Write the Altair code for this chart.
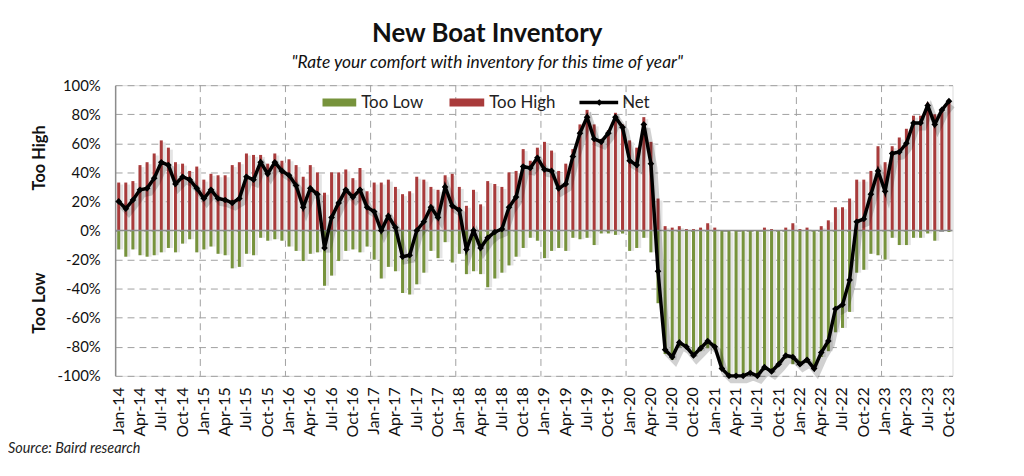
import altair as alt
import pandas as pd

MONTH_ABBR = ["Jan", "Feb", "Mar", "Apr", "May", "Jun",
              "Jul", "Aug", "Sep", "Oct", "Nov", "Dec"]
YEARS = ["14", "15", "16", "17", "18", "19", "20", "21", "22", "23"]
months = [f"{m}-{y}" for y in YEARS for m in MONTH_ABBR][:118]

too_high = [33, 33, 34, 45, 47, 53, 62, 57, 47, 46, 41, 44,
            35, 39, 38, 38, 45, 47, 53, 52, 52, 46, 53, 48,
            49, 45, 37, 45, 40, 26, 40, 40, 42, 36, 43, 27,
            33, 33, 35, 30, 25, 27, 37, 35, 30, 28, 38, 39,
            30, 17, 28, 18, 34, 32, 30, 40, 41, 56, 48, 57,
            61, 55, 41, 46, 56, 73, 83, 73, 63, 69, 81, 73,
            62, 57, 78, 61, 22, 3, 2, 3, 1, 1, 2, 5,
            2, 0, 0, 0, 0, 0, 0, 2, 1, 0, 2, 5,
            1, 2, 0, 3, 7, 16, 16, 22, 35, 35, 41, 58,
            47, 58, 64, 70, 79, 79, 88, 80, 83, 90]

too_low = [-13, -18, -13, -17, -18, -17, -15, -12, -15, -9, -6, -15,
           -13, -11, -16, -17, -26, -25, -16, -17, -5, -7, -6, -7,
           -11, -14, -21, -16, -15, -38, -31, -21, -14, -13, -15, -11,
           -20, -33, -25, -28, -43, -44, -37, -29, -14, -19, -8, -22,
           -16, -30, -28, -30, -39, -33, -29, -24, -18, -12, -5, -7,
           -19, -14, -12, -14, -5, -6, -5, -10, -2, -2, -3, -2,
           -14, -12, -5, -15, -50, -85, -89, -80, -81, -87, -83, -81,
           -82, -95, -100, -100, -100, -98, -100, -96, -98, -92, -88, -92,
           -93, -91, -95, -87, -83, -70, -67, -56, -29, -27, -16, -17,
           -20, -5, -10, -10, -5, -5, -2, -7, 0, -1]

net = [20, 15, 21, 28, 29, 36, 47, 45, 32, 37, 35, 29,
       22, 28, 22, 21, 19, 22, 37, 35, 47, 39, 47, 41,
       38, 31, 16, 29, 25, -12, 9, 19, 28, 23, 28, 16,
       13, 0, 10, 2, -18, -17, 0, 6, 16, 9, 30, 17,
       14, -13, 0, -12, -5, -1, 1, 16, 23, 44, 43, 50,
       42, 41, 29, 32, 51, 67, 78, 63, 61, 67, 78, 71,
       48, 45, 73, 46, -28, -82, -87, -77, -80, -86, -81, -76,
       -80, -95, -100, -100, -100, -98, -100, -94, -97, -92, -86, -87,
       -92, -89, -95, -84, -76, -54, -51, -34, 6, 8, 25, 41,
       27, 53, 54, 60, 74, 74, 86, 73, 83, 89]

x_tick_labels = months[::3]
year_starts = [m for m in months if m.startswith("Jan")][1:]
legend_items = ["Too Low", "Too High", "Net"]
y_titles = ["Too High", "Too Low"]
y_title_pos = [50, -50]
source_text = "Source: Baird research"

RED = "#A93B3B"
GREEN = "#77933C"
GRID = "#a0a0a0"
FONT = "Lato"
W, H = 844, 293

df = pd.DataFrame({"month": months, "too_high": too_high,
                   "too_low": too_low, "net": net})

xscale = alt.Scale(domain=months, paddingInner=0, paddingOuter=0)
xaxis = alt.Axis(values=x_tick_labels, labelAngle=270, title=None,
                 domain=False, ticks=False, grid=False, labelFontSize=16,
                 labelPadding=11, labelColor="#111", labelFont=FONT)
yscale = alt.Scale(domain=[-100, 100], nice=False)
yaxis = alt.Axis(values=list(range(-100, 101, 20)), labelExpr="datum.value + '%'",
                 title=None, grid=True, gridDash=[7, 5], gridColor=GRID,
                 domain=True, domainColor="#8c8c8c", domainWidth=1.5,
                 ticks=False, labelFontSize=15, labelPadding=15,
                 labelColor="#111", labelFont=FONT)

base = alt.Chart(df)

vgrid = alt.Chart(pd.DataFrame({"m": year_starts})).mark_rule(
    color=GRID, strokeDash=[7, 5], strokeWidth=1
).encode(x=alt.X("m:N", sort=months, scale=xscale, axis=xaxis, bandPosition=0))

shadow_bars = base.mark_bar(size=6, color="#e4e4e4", xOffset=1.5, yOffset=2).encode(
    x=alt.X("month:N", sort=months, scale=xscale, axis=xaxis),
    y=alt.Y("too_high:Q", scale=yscale, axis=yaxis),
    y2="too_low:Q",
)

red_bars = base.mark_bar(size=3, color=RED).encode(
    x=alt.X("month:N", sort=months, scale=xscale, axis=xaxis),
    y=alt.Y("too_high:Q", scale=yscale, axis=yaxis),
)
green_bars = base.mark_bar(size=3, color=GREEN).encode(
    x=alt.X("month:N", sort=months, scale=xscale, axis=xaxis),
    y=alt.Y("too_low:Q", scale=yscale, axis=yaxis),
)

zero_rule = alt.Chart(pd.DataFrame({"z": [0]})).mark_rule(
    color="#8c8c8c", strokeWidth=1.5
).encode(y=alt.Y("z:Q", scale=yscale, axis=yaxis))

line_shadow = base.mark_line(color="#000", opacity=0.18, strokeWidth=7,
                             xOffset=3, yOffset=4).encode(
    x=alt.X("month:N", sort=months, scale=xscale, axis=xaxis),
    y=alt.Y("net:Q", scale=yscale, axis=yaxis),
)
net_line = base.mark_line(color="black", strokeWidth=3.5).encode(
    x=alt.X("month:N", sort=months, scale=xscale, axis=xaxis),
    y=alt.Y("net:Q", scale=yscale, axis=yaxis),
)
net_pts = base.mark_point(shape="diamond", size=45, filled=True, color="black", opacity=1).encode(
    x=alt.X("month:N", sort=months, scale=xscale, axis=xaxis),
    y=alt.Y("net:Q", scale=yscale, axis=yaxis),
)

one = alt.Data(values=[{"k": 1}])
LEG_Y = 17.5
leg_green = alt.Chart(one).mark_rule(color=GREEN, strokeWidth=8).encode(
    x=alt.value(209), x2=alt.value(243), y=alt.value(LEG_Y))
leg_red = alt.Chart(one).mark_rule(color=RED, strokeWidth=8).encode(
    x=alt.value(337), x2=alt.value(372), y=alt.value(LEG_Y))
leg_line = alt.Chart(one).mark_rule(color="black", strokeWidth=3.5).encode(
    x=alt.value(468), x2=alt.value(507), y=alt.value(LEG_Y))
leg_diamond = alt.Chart(one).mark_point(shape="diamond", size=45, filled=True,
                                        color="black", opacity=1).encode(
    x=alt.value(488), y=alt.value(LEG_Y))
leg_text = alt.Chart(alt.Data(values=[{"t": legend_items[0], "x": 248},
                                      {"t": legend_items[1], "x": 377},
                                      {"t": legend_items[2], "x": 511}])).mark_text(
    align="left", baseline="middle", fontSize=17, font=FONT, color="#222"
).encode(x=alt.X("x:Q", scale=None), y=alt.value(LEG_Y + 1), text="t:N")

ytitle = alt.Chart(pd.DataFrame({"t": y_titles, "v": y_title_pos})).mark_text(
    angle=270, fontSize=16.5, fontWeight="bold", font=FONT, color="#111",
    align="center", baseline="middle"
).encode(x=alt.value(-76), y=alt.Y("v:Q", scale=yscale, axis=yaxis), text="t:N")

source = alt.Chart(one).mark_text(
    align="left", baseline="middle", fontSize=14.5, fontStyle="italic",
    font=FONT, color="#222"
).encode(x=alt.value(-108), y=alt.value(367), text=alt.value(source_text))

chart = alt.layer(
    vgrid, shadow_bars, red_bars, green_bars, zero_rule, line_shadow,
    net_line, net_pts, leg_green, leg_red, leg_line, leg_diamond, leg_text,
    ytitle, source
).properties(
    width=W, height=H,
    title=alt.TitleParams(
        text="New Boat Inventory",
        subtitle='"Rate your comfort with inventory for this time of year"',
        anchor="middle", dx=-47, fontSize=26, fontWeight="bold", font=FONT,
        color="#111", subtitleFont=FONT, subtitleFontSize=17.5,
        subtitleFontStyle="italic", subtitleColor="#111", subtitlePadding=7,
        offset=7,
    ),
    autosize=alt.AutoSizeParams(type="none"),
    padding={"left": 108, "top": 76, "right": 64, "bottom": 80},
).configure_view(stroke=None).configure(background="white")

chart.save("out.html", embed_options={"renderer": "svg", "actions": False})
